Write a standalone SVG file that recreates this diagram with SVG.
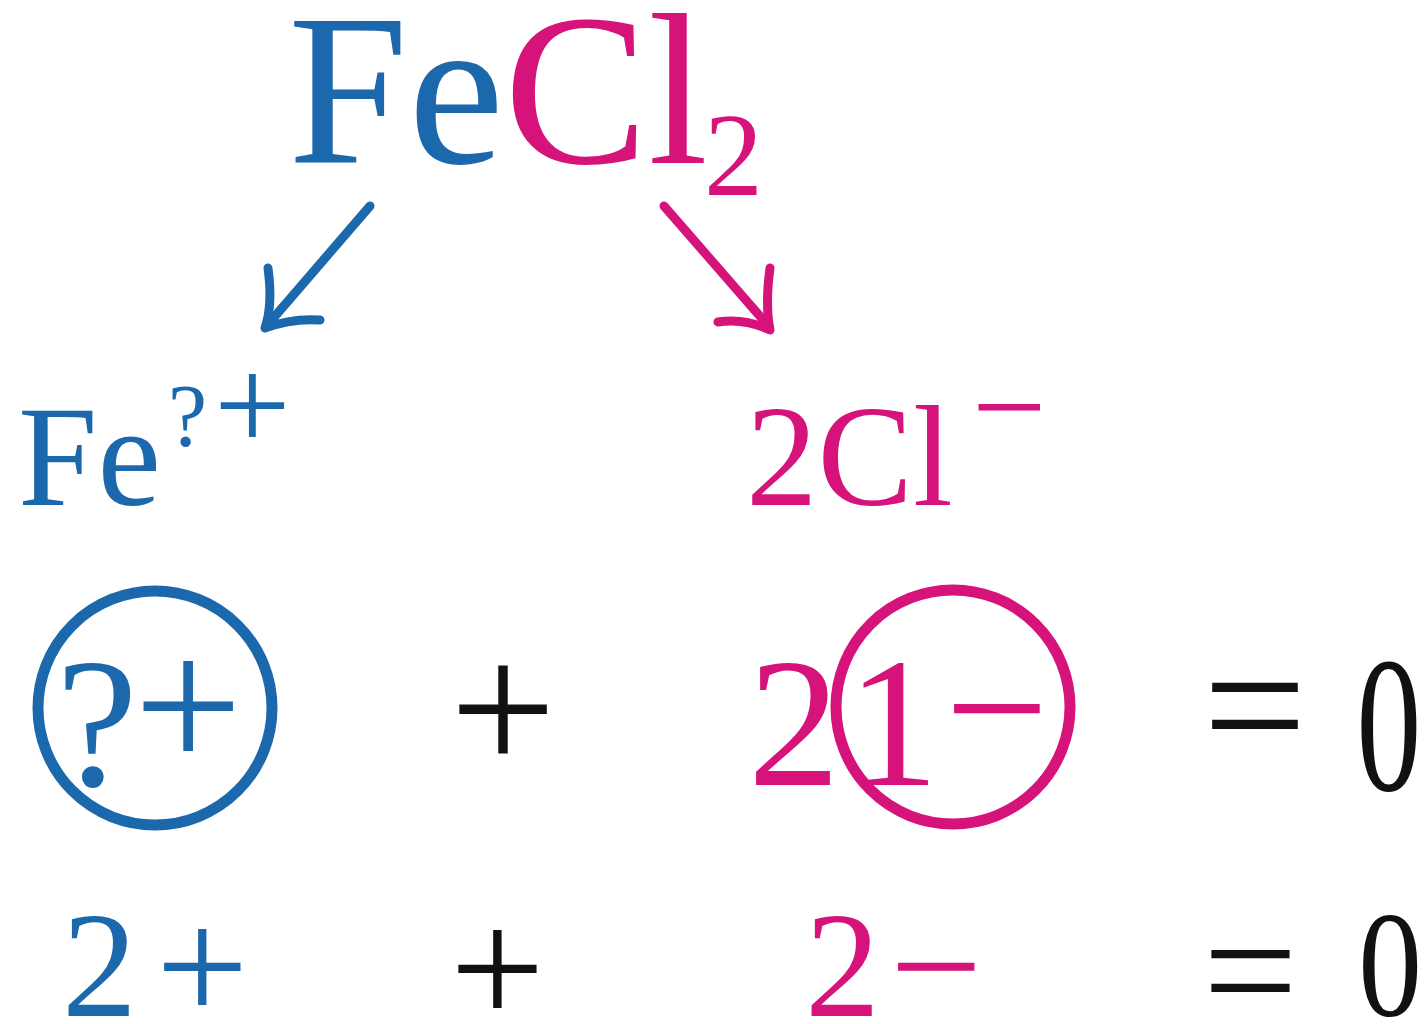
<svg xmlns="http://www.w3.org/2000/svg" width="1428" height="1024" viewBox="0 0 1428 1024">
<rect width="1428" height="1024" fill="#fff"/>
<g id="formula" font-family="Times New Roman">
<text transform="translate(288,163) scale(4)" font-size="54"><tspan fill="#1c68ad">Fe</tspan><tspan fill="#d6137a">Cl</tspan></text>
<text transform="translate(704,195) scale(4)" font-size="29.5" fill="#d6137a">2</text>
</g>
<g id="connectors" fill="none" stroke-width="9" stroke-linecap="round" stroke-linejoin="round">
<path stroke="#1c68ad" d="M370,206 L270,322"/>
<path stroke="#1c68ad" d="M268,268 Q273,305 265,328 Q292,318 320,320"/>
<path stroke="#d6137a" d="M664,206 L765,322"/>
<path stroke="#d6137a" d="M770,268 Q765,305 770,330 Q745,318 718,322"/>
</g>
<g id="fe-ion" font-family="Times New Roman" fill="#1c68ad">
<text transform="translate(18,505) scale(4)" font-size="35.75">Fe</text>
<text transform="translate(168,445) scale(4)" font-size="22">?</text>
<text transform="translate(214,451) scale(4)" font-size="34">+</text>
</g>
<g id="cl-ion" font-family="Times New Roman" fill="#d6137a">
<text transform="translate(746,505) scale(4)" font-size="35.75">2Cl</text>
<text transform="translate(972,451) scale(4)" font-size="33">−</text>
</g>
<g id="fe-charge" font-family="Times New Roman" fill="#1c68ad">
<circle cx="155" cy="708" r="117" fill="none" stroke="#1c68ad" stroke-width="11"/>
<text transform="translate(56,785) scale(4)" font-size="46">?</text>
<text transform="translate(134,770) scale(4)" font-size="48">+</text>
</g>
<g id="plus1" font-family="Times New Roman" fill="#111">
<text transform="translate(450,772) scale(4)" font-size="47">+</text>
</g>
<g id="cl-charge" font-family="Times New Roman" fill="#d6137a">
<text transform="translate(748,785) scale(4)" font-size="46">2</text>
<circle cx="953" cy="707" r="117" fill="none" stroke="#d6137a" stroke-width="11"/>
<text transform="translate(847,785) scale(4)" font-size="46">1</text>
<text transform="translate(945,770) scale(4)" font-size="46">−</text>
</g>
<g id="equals1" font-family="Times New Roman" fill="#111">
<text transform="translate(1203,767) scale(4)" font-size="46">=</text>
<text transform="translate(1389,790) scale(2.7,4)" font-size="48" text-anchor="middle">0</text>
</g>
<g id="row2" font-family="Times New Roman">
<text transform="translate(62,1016) scale(4)" font-size="37.5" fill="#1c68ad">2</text>
<text transform="translate(156,1021) scale(4)" font-size="41" fill="#1c68ad">+</text>
<text transform="translate(450,1025) scale(4)" font-size="42" fill="#111">+</text>
<text transform="translate(805,1016) scale(4)" font-size="37.5" fill="#d6137a">2</text>
<text transform="translate(890,1021) scale(4)" font-size="41" fill="#d6137a">−</text>
<text transform="translate(1203,1027) scale(4)" font-size="42" fill="#111">=</text>
<text transform="translate(1390,1016) scale(3.4,4)" font-size="37.5" text-anchor="middle" fill="#111">0</text>
</g>
</svg>
